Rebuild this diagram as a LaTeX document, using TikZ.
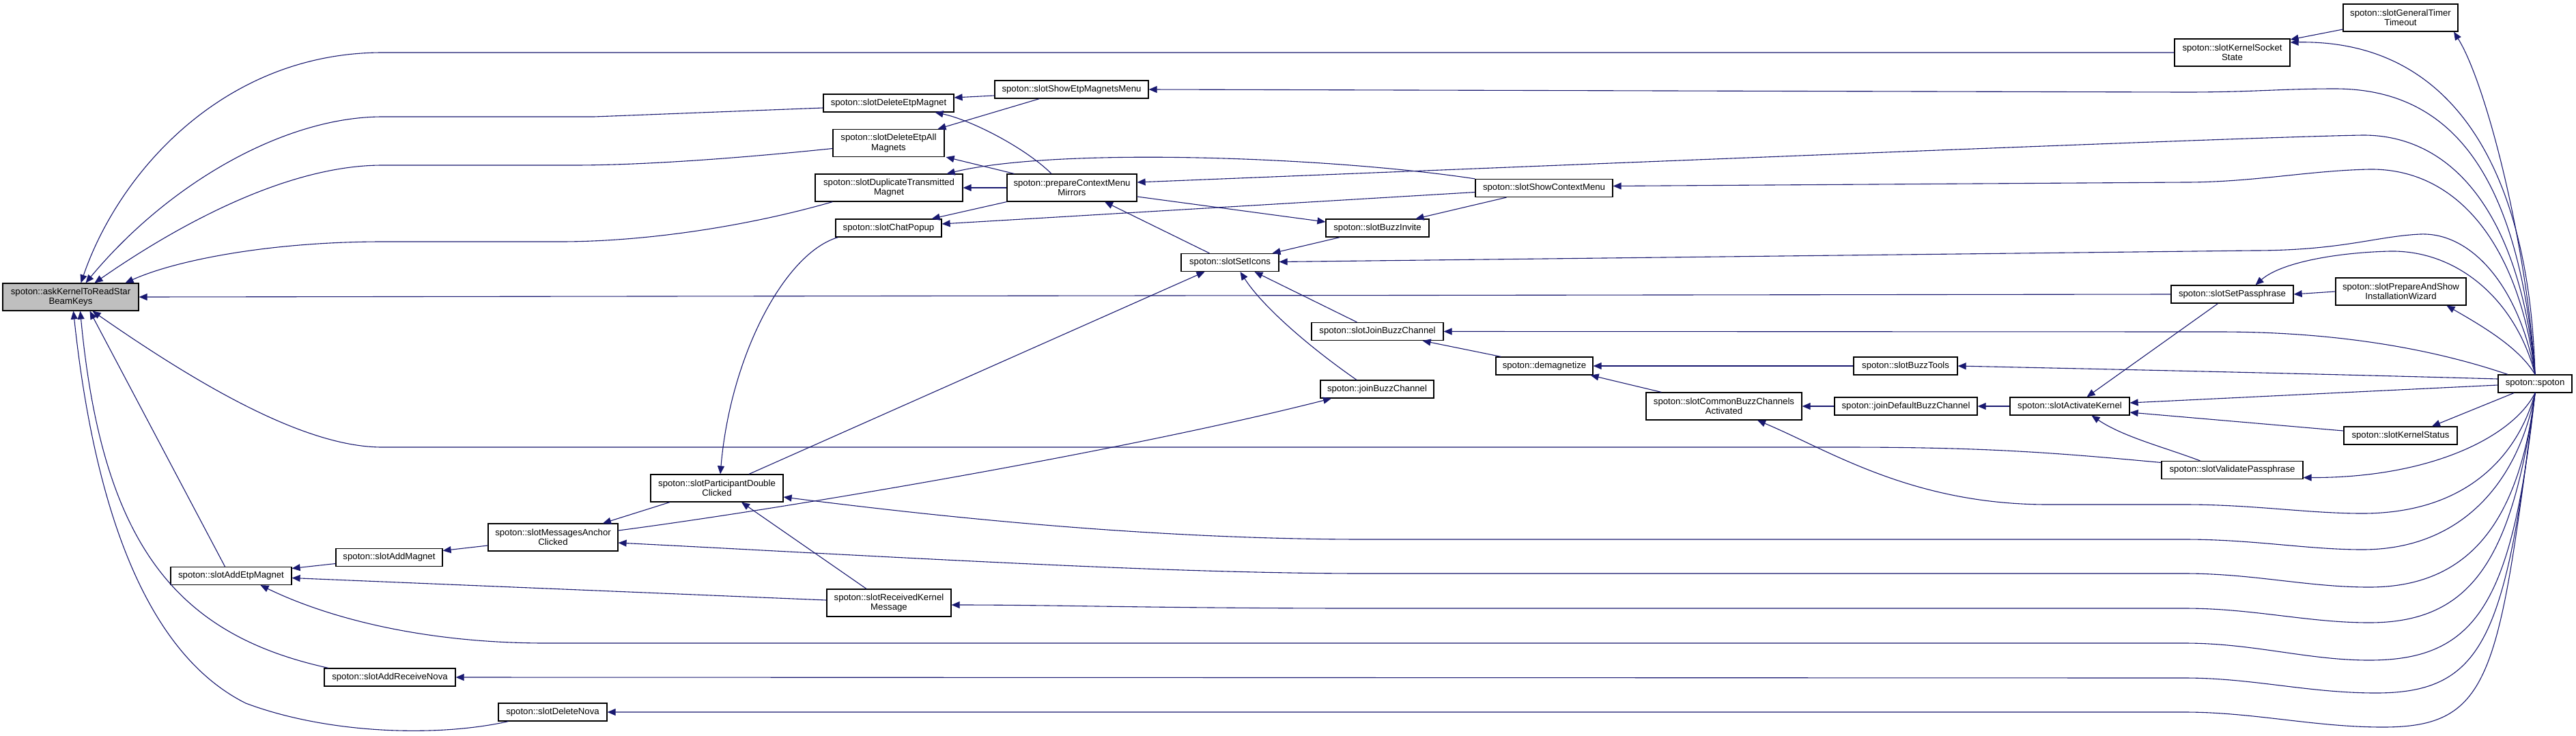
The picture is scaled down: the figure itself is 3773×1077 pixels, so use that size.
\documentclass[tikz,border=0pt]{standalone}
\usepackage{fontspec}
\setmainfont{Liberation Sans}
\usetikzlibrary{arrows.meta,calc}
\definecolor{edgeblue}{RGB}{25,25,112}
\definecolor{focusgray}{RGB}{191,191,191}

\begin{document}
\begin{tikzpicture}[>={Triangle[length=12pt,width=10pt]},x=1pt,y=-1pt,
  fn/.style={draw=black,fill=white,line width=1.2pt,inner sep=0pt,align=center,font=\fontsize{13.2}{14.5}\selectfont},
  one/.style={minimum height=26pt},
  two/.style={minimum height=40pt},
  calledge/.style={->,draw=edgeblue,line width=1.1pt}]
\fill[white,use as bounding box] (0,0) rectangle (3773,1077);

\node[fn,two,minimum width=199pt,fill=focusgray] (askKernel) at (103.5,435) {spoton::askKernelToReadStar\\BeamKeys};
\node[fn,two,minimum width=169pt] (kernelSocket) at (3269.5,77) {spoton::slotKernelSocket\\State};
\node[fn,two,minimum width=168pt] (timerTimeout) at (3516,26) {spoton::slotGeneralTimer\\Timeout};
\node[fn,one,minimum width=191pt] (deleteEtp) at (1301.5,151) {spoton::slotDeleteEtpMagnet};
\node[fn,one,minimum width=225pt] (showEtpMenu) at (1569.5,131) {spoton::slotShowEtpMagnetsMenu};
\node[fn,two,minimum width=163pt] (deleteEtpAll) at (1301.5,209.5) {spoton::slotDeleteEtpAll\\Magnets};
\node[fn,two,minimum width=216pt] (duplicate) at (1302,275) {spoton::slotDuplicateTransmitted\\Magnet};
\node[fn,two,minimum width=190pt] (prepareMenu) at (1570,275) {spoton::prepareContextMenu\\Mirrors};
\node[fn,one,minimum width=201pt] (showMenu) at (2261.5,275.5) {spoton::slotShowContextMenu};
\node[fn,one,minimum width=155pt] (chatPopup) at (1301.5,334) {spoton::slotChatPopup};
\node[fn,one,minimum width=151pt] (buzzInvite) at (2017.5,334) {spoton::slotBuzzInvite};
\node[fn,one,minimum width=143pt] (setIcons) at (1801.5,384.5) {spoton::slotSetIcons};
\node[fn,one,minimum width=179pt] (setPass) at (3269.5,431) {spoton::slotSetPassphrase};
\node[fn,two,minimum width=191pt] (wizard) at (3516.5,427) {spoton::slotPrepareAndShow\\InstallationWizard};
\node[fn,one,minimum width=193pt] (slotJoin) at (2017.5,485.5) {spoton::slotJoinBuzzChannel};
\node[fn,one,minimum width=142pt] (demag) at (2262,536) {spoton::demagnetize};
\node[fn,one,minimum width=152pt] (buzzTools) at (2791,536) {spoton::slotBuzzTools};
\node[fn,one,minimum width=166pt] (join) at (2017,570) {spoton::joinBuzzChannel};
\node[fn,two,minimum width=228pt] (commonBuzz) at (2525,595) {spoton::slotCommonBuzzChannels\\Activated};
\node[fn,one,minimum width=209pt] (joinDefault) at (2791.5,595) {spoton::joinDefaultBuzzChannel};
\node[fn,one,minimum width=175pt] (activate) at (3031.5,595) {spoton::slotActivateKernel};
\node[fn,one,minimum width=108pt] (spoton) at (3713,562) {spoton::spoton};
\node[fn,one,minimum width=166pt] (kernelStatus) at (3516,638) {spoton::slotKernelStatus};
\node[fn,one,minimum width=207pt] (validatePass) at (3269.5,688.5) {spoton::slotValidatePassphrase};
\node[fn,two,minimum width=194pt] (participant) at (1050,715) {spoton::slotParticipantDouble\\Clicked};
\node[fn,two,minimum width=190pt] (anchorClicked) at (810,787) {spoton::slotMessagesAnchor\\Clicked};
\node[fn,one,minimum width=156pt] (addMagnet) at (570,816.5) {spoton::slotAddMagnet};
\node[fn,one,minimum width=177pt] (addEtp) at (338.5,843.5) {spoton::slotAddEtpMagnet};
\node[fn,two,minimum width=182pt] (receivedMsg) at (1302,883) {spoton::slotReceivedKernel\\Message};
\node[fn,one,minimum width=192pt] (addNova) at (571,992) {spoton::slotAddReceiveNova};
\node[fn,one,minimum width=159pt] (deleteNova) at (809.5,1043) {spoton::slotDeleteNova};

\draw[calledge] (kernelSocket.west) -- (560,77) .. controls (330,77) and (175,250) .. ([xshift=15pt]askKernel.north);
\draw[calledge] ([yshift=-7pt]deleteEtp.west) -- (870,171) -- (560,171) .. controls (420,171) and (250,265) .. ([xshift=22pt]askKernel.north);
\draw[calledge] ([yshift=-8pt]deleteEtpAll.west) .. controls (1100,230) and (950,242) .. (840,242) -- (560,242) .. controls (420,242) and (260,330) .. ([xshift=35pt]askKernel.north);
\draw[calledge] ([xshift=26pt]duplicate.south west) .. controls (1100,330) and (950,354) .. (820,354) -- (560,354) .. controls (400,354) and (260,380) .. ([xshift=80pt]askKernel.north);
\draw[calledge] (setPass.west) -- (askKernel.east);
\draw[calledge] ([yshift=11pt]validatePass.west) .. controls (3000,662) and (2900,655) .. (2700,655) -- (560,655) .. controls (450,655) and (300,570) .. ([xshift=32pt]askKernel.south);
\draw[calledge] ([xshift=-9pt]addEtp.north) -- ([xshift=28pt]askKernel.south);
\draw[calledge] ([xshift=-90pt]addNova.north) .. controls (260,930) and (150,800) .. ([xshift=14pt]askKernel.south);
\draw[calledge] ([xshift=-65pt]deleteNova.south) .. controls (640,1080) and (480,1075) .. (360,1030) .. controls (220,960) and (140,760) .. ([xshift=4pt]askKernel.south);

\draw[calledge] ([yshift=-17pt]timerTimeout.west) -- ([yshift=19pt]kernelSocket.east);
\draw[calledge] (spoton.north) .. controls (3705,260) and (3600,58) .. ([yshift=15pt]kernelSocket.east);
\draw[calledge] (spoton.north) .. controls (3700,350) and (3640,120) .. ([xshift=78pt]timerTimeout.south);
\draw[calledge] (spoton.north) .. controls (3690,270) and (3600,130) .. (3420,130) .. controls (3340,130) and (3300,135) .. (3200,135) -- (showEtpMenu.east);
\draw[calledge] (spoton.north) .. controls (3690,310) and (3590,197) .. (3460,198) .. controls (3340,200) and (2900,217) .. ([yshift=8pt]prepareMenu.east);
\draw[calledge] (spoton.north) .. controls (3690,360) and (3600,246) .. (3470,248) .. controls (3380,250) and (3300,267) .. (3200,267) -- ([yshift=3pt]showMenu.east);
\draw[calledge] (spoton.north) .. controls (3690,420) and (3620,340) .. (3545,343) .. controls (3480,346) and (3430,367) .. (3300,367) -- ([yshift=1pt]setIcons.east);
\draw[calledge] (spoton.north) .. controls (3685,440) and (3600,366) .. (3500,368) .. controls (3420,370) and (3340,385) .. ([xshift=34pt]setPass.north);
\draw[calledge] (spoton.north) .. controls (3690,510) and (3640,480) .. ([xshift=67pt]wizard.south);
\draw[calledge] ([xshift=-40pt]spoton.north) .. controls (3560,510) and (3420,486) .. (3250,486) -- (slotJoin.east);
\draw[calledge] ([yshift=7pt]spoton.west) .. controls (3300,545) and (3000,539) .. (buzzTools.east);
\draw[calledge] ([yshift=-2pt]spoton.west) -- ([yshift=5pt]activate.east);
\draw[calledge] ([xshift=-31pt]spoton.south) -- ([xshift=46pt]kernelStatus.north);
\draw[calledge] (spoton.south) .. controls (3680,640) and (3560,700) .. ([yshift=-11pt]validatePass.east);
\draw[calledge] (spoton.south) .. controls (3690,660) and (3620,752) .. (3460,752) .. controls (3380,752) and (3300,739) .. (3200,739) -- (3000,739) .. controls (2800,739) and (2680,660) .. ([xshift=49pt]commonBuzz.south);
\draw[calledge] (spoton.south) .. controls (3690,700) and (3610,805) .. (3460,805) .. controls (3380,805) and (3300,790) .. (3200,790) -- (2000,790) .. controls (1700,790) and (1400,760) .. ([yshift=-13pt]participant.east);
\draw[calledge] (spoton.south) .. controls (3690,760) and (3620,860) .. (3470,860) .. controls (3380,860) and (3300,840) .. (3200,840) -- (2000,840) .. controls (1700,840) and (1300,815) .. ([yshift=-8pt]anchorClicked.east);
\draw[calledge] (spoton.south) .. controls (3680,820) and (3620,912) .. (3470,912) .. controls (3380,912) and (3300,891) .. (3200,891) -- (2000,891) .. controls (1700,891) and (1550,886) .. ([yshift=-3pt]receivedMsg.east);
\draw[calledge] (spoton.south) .. controls (3680,880) and (3630,967) .. (3470,967) .. controls (3380,967) and (3300,942) .. (3200,942) -- (800,942) .. controls (620,942) and (480,905) .. ([xshift=43pt]addEtp.south);
\draw[calledge] (spoton.south) .. controls (3670,930) and (3640,1015) .. (3480,1015) .. controls (3380,1015) and (3300,993) .. (3200,993) -- (addNova.east);
\draw[calledge] (spoton.south) .. controls (3660,990) and (3650,1065) .. (3490,1065) .. controls (3390,1065) and (3300,1043) .. (3200,1043) -- (deleteNova.east);

\draw[calledge] ([yshift=-9pt]showEtpMenu.west) -- ([yshift=8pt]deleteEtp.east);
\draw[calledge] ([xshift=-47pt]showEtpMenu.south) -- ([xshift=72pt]deleteEtpAll.north);
\draw[calledge] ([xshift=-30pt]prepareMenu.north) .. controls (1500,215) and (1420,175) .. ([xshift=68pt]deleteEtp.south);
\draw[calledge] ([xshift=11pt]prepareMenu.north west) -- ([xshift=2pt]deleteEtpAll.south east);
\draw[calledge] (prepareMenu.west) -- (duplicate.east);
\draw[calledge] (prepareMenu.south west) -- ([xshift=-15pt]chatPopup.north east);
\draw[calledge] (showMenu.north west) .. controls (1950,230) and (1550,215) .. ([xshift=-24pt]duplicate.north east);
\draw[calledge] ([yshift=-6pt]showMenu.west) -- ([yshift=6pt]chatPopup.east);
\draw[calledge] ([yshift=-13pt]prepareMenu.east) -- ([yshift=9pt]buzzInvite.west);
\draw[calledge] ([xshift=-55pt]showMenu.south) -- ([xshift=56pt]buzzInvite.north);
\draw[calledge] ([xshift=-55pt]buzzInvite.south) -- ([xshift=62pt]setIcons.north);
\draw[calledge] ([xshift=-30pt]setIcons.north) -- ([xshift=48pt]prepareMenu.south);
\draw[calledge] ([xshift=-30pt]slotJoin.north) -- ([xshift=36pt]setIcons.south);
\draw[calledge] ([xshift=-30pt]join.north) .. controls (1920,510) and (1850,450) .. ([xshift=15pt]setIcons.south);
\draw[calledge] ([xshift=47pt]participant.north) -- ([xshift=-37pt]setIcons.south);
\draw[calledge] ([xshift=-74pt]chatPopup.south) .. controls (1150,370) and (1070,520) .. ([xshift=5pt]participant.north);
\draw[calledge] ([xshift=8pt]demag.north west) -- ([xshift=-31pt]slotJoin.south east);
\draw[calledge] (buzzTools.west) -- (demag.east);
\draw[calledge] ([xshift=23pt]commonBuzz.north west) -- ([xshift=-4pt]demag.south east);
\draw[calledge] ([yshift=10pt]anchorClicked.east) .. controls (1150,745) and (1650,660) .. ([xshift=-67pt]join.south);
\draw[calledge] ([xshift=-33pt]receivedMsg.north) -- ([xshift=36pt]participant.south);
\draw[calledge] ([yshift=4pt]receivedMsg.west) -- ([yshift=-3pt]addEtp.east);
\draw[calledge] (joinDefault.west) -- (commonBuzz.east);
\draw[calledge] (activate.west) -- (joinDefault.east);
\draw[calledge] ([xshift=-21pt]setPass.south) -- ([xshift=25pt]activate.north);
\draw[calledge] ([xshift=-47pt]validatePass.north) .. controls (3170,655) and (3110,640) .. ([xshift=32pt]activate.south);
\draw[calledge] ([yshift=7pt]kernelStatus.west) -- ([yshift=-9pt]activate.east);
\draw[calledge] (wizard.west) -- (setPass.east);
\draw[calledge] ([xshift=-69pt]participant.south) -- ([xshift=73pt]anchorClicked.north);
\draw[calledge] ([yshift=-12pt]anchorClicked.west) -- ([yshift=10pt]addMagnet.east);
\draw[calledge] ([yshift=-9pt]addMagnet.west) -- ([yshift=11pt]addEtp.east);
\end{tikzpicture}
\end{document}
